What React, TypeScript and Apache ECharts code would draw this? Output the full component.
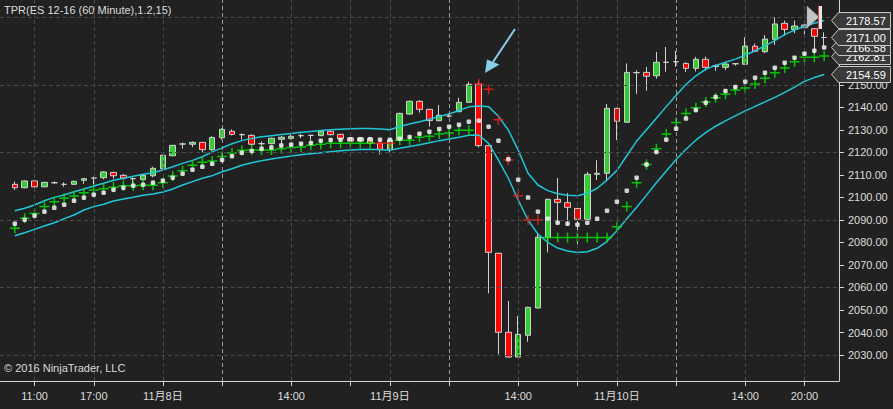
import { useEffect, useRef } from "react";
import * as echarts from "echarts";

const opens = [2105.8, 2104.3, 2107.3, 2104.7, 2106.5, 2105.8, 2105.8, 2107.6, 2108.6, 2108.75, 2111.1, 2109.8, 2108.3, 2107.85, 2109.6, 2112.7, 2118.5, 2123.7, 2123.6, 2124.45, 2121.2, 2126.5, 2129.35, 2127.85, 2127.55, 2123.85, 2123.85, 2125.8, 2126.2, 2127.4, 2127.55, 2127.4, 2129.35, 2128.0, 2126.4, 2125.0, 2126.25, 2124.0, 2121.35, 2125.5, 2137.0, 2142.65, 2139.1, 2134.05, 2136.1, 2138.05, 2142.2, 2150.2, 2123.0, 2075.2, 2040.1, 2029.1, 2038.75, 2050.9, 2082.3, 2099.15, 2097.65, 2095.1, 2090.3, 2110.25, 2110.7, 2139.55, 2133.35, 2155.4, 2155.5, 2154.0, 2160.0, 2160.25, 2159.5, 2157.3, 2161.3, 2158.1, 2157.75, 2159.35, 2159.1, 2167.1, 2164.7, 2170.2, 2177.3, 2174.6, 2176.55, 2174.9, 2171.0];
const closes = [2104.3, 2107.3, 2104.7, 2106.7, 2106.5, 2105.8, 2107.15, 2108.3, 2108.6, 2111.3, 2109.6, 2108.6, 2108.3, 2109.8, 2112.9, 2118.7, 2123.1, 2123.7, 2124.45, 2121.2, 2126.6, 2130.2, 2128.0, 2127.85, 2123.6, 2123.85, 2126.25, 2126.7, 2127.1, 2127.4, 2127.55, 2129.35, 2127.85, 2126.05, 2125.05, 2126.4, 2124.0, 2121.35, 2125.5, 2137.3, 2142.7, 2139.1, 2134.1, 2136.45, 2136.1, 2142.2, 2150.2, 2123.0, 2075.6, 2040.1, 2029.1, 2039.2, 2051.2, 2082.3, 2099.15, 2097.8, 2095.6, 2090.3, 2110.25, 2110.7, 2139.55, 2133.8, 2155.5, 2155.4, 2153.8, 2160.0, 2160.0, 2160.25, 2157.3, 2161.3, 2157.75, 2158.4, 2159.2, 2159.35, 2167.2, 2164.9, 2170.3, 2177.0, 2174.6, 2176.1, 2175.35, 2171.5, 2171.0];
const lows = [2103.3, 2104.0, 2104.5, 2104.5, 2106.0, 2104.7, 2105.6, 2106.0, 2105.8, 2108.0, 2108.3, 2107.8, 2105.95, 2107.6, 2108.9, 2112.5, 2118.3, 2121.6, 2122.3, 2120.0, 2120.6, 2125.7, 2127.5, 2125.6, 2123.0, 2121.8, 2123.6, 2123.4, 2125.7, 2126.3, 2125.4, 2127.2, 2127.5, 2125.8, 2124.8, 2124.7, 2123.8, 2119.1, 2120.0, 2125.3, 2136.8, 2137.6, 2131.4, 2133.8, 2135.5, 2137.8, 2142.0, 2122.2, 2057.4, 2030.3, 2029.0, 2029.0, 2035.9, 2050.7, 2075.6, 2088.5, 2087.4, 2078.1, 2090.1, 2107.7, 2107.7, 2125.5, 2133.1, 2146.05, 2147.4, 2152.7, 2155.8, 2158.0, 2155.7, 2155.9, 2156.4, 2156.2, 2156.5, 2158.5, 2158.9, 2164.5, 2164.0, 2167.7, 2171.7, 2172.9, 2172.1, 2164.0, 2167.35];
const highs = [2107.0, 2107.6, 2107.5, 2106.9, 2107.1, 2106.7, 2107.4, 2108.5, 2109.2, 2111.7, 2111.4, 2110.4, 2108.9, 2110.0, 2113.6, 2118.9, 2123.3, 2124.4, 2124.8, 2124.6, 2127.2, 2130.7, 2130.2, 2128.4, 2128.0, 2124.9, 2126.5, 2127.2, 2127.9, 2128.3, 2127.7, 2129.8, 2129.6, 2128.2, 2126.6, 2126.6, 2126.5, 2124.2, 2125.7, 2137.6, 2142.9, 2143.2, 2139.3, 2141.0, 2137.3, 2144.3, 2151.2, 2151.8, 2123.3, 2075.4, 2054.0, 2047.3, 2051.4, 2084.0, 2099.4, 2108.6, 2101.9, 2095.3, 2111.3, 2116.5, 2141.5, 2139.8, 2159.5, 2156.4, 2157.9, 2164.6, 2166.8, 2165.0, 2160.0, 2162.4, 2162.5, 2159.0, 2160.0, 2159.6, 2171.1, 2168.3, 2172.1, 2179.95, 2178.5, 2178.5, 2176.9, 2175.2, 2173.3];

const midDots = [2088.3, 2090.1, 2091.9, 2093.65, 2095.4, 2096.75, 2098.5, 2099.85, 2101.2, 2102.1, 2103.4, 2104.3, 2105.2, 2105.6, 2106.5, 2107.4, 2108.75, 2110.5, 2112.3, 2113.6, 2114.9, 2116.65, 2118.3, 2119.8, 2120.65, 2121.55, 2122.1, 2123.0, 2123.4, 2123.85, 2124.2, 2125.2, 2125.5, 2125.6, 2125.8, 2125.8, 2125.8, 2125.6, 2125.6, 2126.05, 2126.8, 2128.3, 2129.2, 2130.35, 2131.4, 2132.3, 2133.6, 2134.05, 2131.4, 2125.2, 2116.9, 2107.85, 2099.9, 2093.65, 2090.55, 2088.75, 2088.3, 2087.9, 2088.75, 2090.5, 2094.1, 2098.1, 2103.0, 2108.75, 2114.6, 2120.2, 2125.6, 2130.5, 2135.0, 2138.8, 2142.05, 2144.6, 2147.2, 2149.0, 2151.4, 2153.15, 2155.4, 2157.6, 2159.8, 2162.05, 2163.8, 2165.15, 2166.58];
const stopValues = [2086.3, 2090.7, 2092.9, 2095.9, 2098.1, 2099.6, 2100.6, 2102.1, 2103.3, 2103.85, 2104.5, 2105.2, 2105.2, 2105.4, 2105.4, 2106.5, 2109.5, 2111.85, 2114.25, 2115.6, 2116.2, 2118.2, 2119.7, 2120.8, 2121.05, 2121.05, 2121.05, 2121.55, 2122.1, 2122.4, 2123.1, 2123.55, 2124.0, 2124.0, 2124.0, 2124.0, 2124.0, 2124.0, 2124.0, 2125.35, 2125.35, 2126.7, 2127.1, 2128.15, 2128.6, 2129.8, 2129.8, 2150.35, 2148.0, 2134.5, 2116.6, 2100.7, 2089.95, 2089.95, 2082.2, 2082.2, 2082.2, 2082.2, 2082.2, 2082.2, 2082.2, 2087.0, 2095.9, 2106.5, 2114.6, 2121.6, 2128.15, 2133.3, 2137.3, 2139.8, 2142.35, 2144.3, 2145.8, 2147.7, 2148.6, 2150.35, 2152.9, 2155.4, 2157.45, 2160.25, 2162.2, 2162.2, 2162.81];
// "G" = long stop (green), "R" = short stop (red)
const stopSides = "GGGGGGGGGGGGGGGGGGGGGGGGGGGGGGGGGGGGGRRGGGGGGGGRRRRRRRGGGGGGGGGGGGGGGGGGGGGGGGGGGGG".split("");
const upperBand = [2094.1, 2095.15, 2096.6, 2098.5, 2100.0, 2101.05, 2102.5, 2103.7, 2105.05, 2106.25, 2107.6, 2108.5, 2109.35, 2110.25, 2110.95, 2112.15, 2113.6, 2115.1, 2116.45, 2118.05, 2120.2, 2122.0, 2123.8, 2125.2, 2126.2, 2126.9, 2127.4, 2127.9, 2128.4, 2128.9, 2129.3, 2129.7, 2130.0, 2130.3, 2130.5, 2130.6, 2130.6, 2130.4, 2130.0, 2131.5, 2132.6, 2133.6, 2134.7, 2135.9, 2137.0, 2138.6, 2140.2, 2140.6, 2140.3, 2136.0, 2129.9, 2121.0, 2110.7, 2105.5, 2103.0, 2101.6, 2100.9, 2100.75, 2101.8, 2104.05, 2107.7, 2112.0, 2118.5, 2125.0, 2130.0, 2135.1, 2140.3, 2145.4, 2150.1, 2154.0, 2156.9, 2158.6, 2160.0, 2161.4, 2163.1, 2165.1, 2167.3, 2169.6, 2172.3, 2174.3, 2176.0, 2177.3, 2178.57];
const lowerBand = [2082.95, 2084.3, 2085.8, 2087.3, 2088.75, 2090.55, 2092.2, 2094.4, 2095.9, 2096.95, 2098.4, 2099.3, 2100.05, 2100.95, 2101.5, 2102.4, 2103.7, 2105.5, 2107.0, 2108.5, 2109.65, 2111.4, 2112.75, 2114.3, 2115.4, 2116.3, 2117.0, 2117.7, 2118.4, 2118.9, 2119.4, 2119.85, 2120.3, 2120.7, 2121.05, 2121.3, 2121.35, 2121.2, 2120.9, 2121.8, 2122.6, 2123.4, 2124.3, 2125.2, 2125.9, 2126.7, 2127.55, 2127.7, 2124.0, 2116.5, 2108.5, 2098.85, 2089.95, 2083.7, 2080.0, 2077.5, 2076.2, 2075.5, 2075.9, 2077.4, 2080.5, 2085.2, 2090.5, 2095.6, 2101.0, 2106.5, 2111.7, 2116.8, 2121.4, 2125.4, 2128.8, 2131.6, 2134.0, 2136.2, 2138.4, 2140.4, 2142.4, 2144.4, 2146.6, 2149.0, 2151.5, 2153.2, 2154.59];

const tickBars = [2, 8, 15, 21, 28, 34, 38, 44, 51, 57, 61, 67, 74, 80];
const tickLabels = ["11:00", "17:00", "11月8日", "", "14:00", "", "11月9日", "", "14:00", "", "11月10日", "", "14:00", "20:00"];
const sessionBars = [21, 44, 67];
const priceTicks = [2030, 2040, 2050, 2060, 2070, 2080, 2090, 2100, 2110, 2120, 2130, 2140, 2150, 2160, 2170, 2180];
const priceLabels = [2030, 2040, 2050, 2060, 2070, 2080, 2090, 2100, 2110, 2120, 2130, 2140, 2150];
const gridPrices = [2030, 2060, 2090, 2120, 2150, 2180];
const titleText = "TPR(ES 12-16 (60 Minute),1.2,15)";
const copyrightText = "© 2016 NinjaTrader, LLC";

const FONT = '"Liberation Sans", Arial, "Noto Sans CJK SC", sans-serif';
const PLUS = "path://M8.5,0h3v8.5h8.5v3h-8.5v8.5h-3v-8.5h-8.5v-3h8.5z";

export default function App() {
  const ref = useRef<HTMLDivElement>(null);
  useEffect(() => {
    const el = ref.current!;
    const chart = echarts.init(el, null, { renderer: "svg" });
    const n = opens.length;
    const cats: string[] = [];
    for (let k = -1; k <= n; k++) cats.push(String(k));
    const empty = ["-", "-", "-", "-"];
    const candles = [empty, ...opens.map((o, i) => [o, closes[i], lows[i], highs[i]]), empty];
    const pad = (a: number[]) => ["-", ...a, "-"];
    const tickSet = new Set(tickBars.map((b) => b + 1));
    const labelMap: Record<number, string> = {};
    tickBars.forEach((b, j) => { if (tickLabels[j]) labelMap[b + 1] = tickLabels[j]; });
    const greenStops: any[] = [];
    const redStops: any[] = [];
    stopValues.forEach((v, i) => (stopSides[i] === "R" ? redStops : greenStops).push([i + 1, v]));
    const dots = midDots.map((v, i) => [i + 1, v]);

    const gridLineData: any[] = [
      ...gridPrices.map((p) => ({ yAxis: p, lineStyle: { color: "#4a4a4a", type: [4, 3], width: 1 } })),
      ...tickBars.map((b) => ({
        xAxis: b + 1,
        lineStyle: { color: sessionBars.includes(b) ? "#9a9a9a" : "#4a4a4a", type: [4, 3], width: 1 },
      })),
    ];

    chart.setOption({
      animation: false,
      backgroundColor: "#212121",
      grid: { left: -4.22, right: 54.02, top: 0, bottom: 28 },
      xAxis: {
        type: "category",
        data: cats,
        boundaryGap: true,
        axisLine: { show: true, lineStyle: { color: "#d4d4d4", width: 1 } },
        axisTick: {
          show: true,
          alignWithLabel: true,
          length: 5,
          interval: (idx: number) => tickSet.has(idx),
          lineStyle: { color: "#d4d4d4" },
        },
        axisLabel: {
          show: true,
          interval: (idx: number) => labelMap[idx] !== undefined,
          formatter: (_v: string, idx: number) => labelMap[idx] || "",
          color: "#dcdcdc",
          fontSize: 11,
          fontFamily: FONT,
          margin: 9,
        },
        splitLine: { show: false },
      },
      yAxis: {
        type: "value",
        position: "right",
        min: 2018.47,
        max: 2187.65,
        axisLine: { show: true, lineStyle: { color: "#d4d4d4", width: 1 } },
        axisTick: { show: true, length: 5, customValues: priceTicks, lineStyle: { color: "#d4d4d4" } },
        axisLabel: {
          show: true,
          customValues: priceLabels,
          formatter: (v: number) => v.toFixed(2),
          color: "#dcdcdc",
          fontSize: 11,
          fontFamily: FONT,
          margin: 9,
        },
        splitLine: { show: false },
      },
      series: [
        {
          type: "line",
          data: pad(lowerBand).map(() => "-"),
          silent: true,
          z: 1,
          markLine: {
            silent: true,
            symbol: ["none", "none"],
            label: { show: false },
            animation: false,
            data: gridLineData,
          },
        },
        {
          type: "candlestick",
          data: candles,
          barWidth: 6,
          z: 2,
          itemStyle: {
            color: "#33cc33",
            color0: "#ff0000",
            borderColor: "#d0d0d0",
            borderColor0: "#d0d0d0",
            borderColorDoji: "#d0d0d0",
            borderWidth: 1,
          },
        },
        {
          type: "line",
          data: pad(upperBand),
          showSymbol: false,
          z: 3,
          lineStyle: { color: "#1ec8d8", width: 1.5 },
        },
        {
          type: "line",
          data: pad(lowerBand),
          showSymbol: false,
          z: 3,
          lineStyle: { color: "#1ec8d8", width: 1.5 },
        },
        {
          type: "scatter",
          data: greenStops,
          symbol: PLUS,
          symbolSize: 10,
          z: 4,
          itemStyle: { color: "#00ee00" },
        },
        {
          type: "scatter",
          data: redStops,
          symbol: PLUS,
          symbolSize: 10,
          z: 4,
          itemStyle: { color: "#ff1a1a" },
        },
        {
          type: "scatter",
          data: dots,
          symbol: "roundRect",
          symbolSize: 4.5,
          z: 5,
          itemStyle: { color: "#ffffff" },
        },
      ],
    });

    const yPix = (v: number) => chart.convertToPixel({ yAxisIndex: 0 }, v) as number;
    const last = (a: number[]) => a[a.length - 1];
    const tagVals = [last(lowerBand), last(stopValues), last(midDots), last(closes), last(upperBand)];
    const tagEls: any[] = [];
    tagVals.forEach((v, j) => {
      const c = Math.round(yPix(v)) + 0.5;
      tagEls.push({
        type: "polygon",
        z: 100 + j * 2,
        shape: { points: [[831.5, c], [838.5, c - 8], [890.5, c - 8], [890.5, c + 8], [838.5, c + 8]] },
        style: { fill: "#3a3a3a", stroke: "#c8c8c8", lineWidth: 1 },
      });
      tagEls.push({
        type: "text",
        z: 101 + j * 2,
        x: 846,
        y: c,
        style: { text: v.toFixed(2), fill: "#ffffff", font: `11px ${FONT}`, textVerticalAlign: "middle", verticalAlign: "middle" },
      });
    });

    chart.setOption({
      graphic: [
        {
          type: "text",
          z: 100,
          x: 4,
          y: 10,
          style: { text: titleText, fill: "#dcdcdc", font: `11px ${FONT}`, textVerticalAlign: "middle", verticalAlign: "middle" },
        },
        {
          type: "text",
          z: 100,
          x: 4,
          y: 368,
          style: { text: copyrightText, fill: "#dcdcdc", font: `11px ${FONT}`, textVerticalAlign: "middle", verticalAlign: "middle" },
        },
        {
          type: "line",
          z: 100,
          shape: { x1: 515, y1: 29, x2: 493, y2: 62 },
          style: { stroke: "#88cfeb", lineWidth: 2 },
        },
        {
          type: "polygon",
          z: 100,
          shape: { points: [[485, 73], [487, 59.5], [499.5, 64.5]] },
          style: { fill: "#88cfeb" },
        },
        {
          type: "polygon",
          z: 100,
          shape: { points: [[807, 6], [819, 17], [807, 28]] },
          style: { fill: "#c4c4c4", stroke: "#9a9a9a", lineWidth: 0.5 },
        },
        { type: "rect", z: 100, shape: { x: 819, y: 6, width: 3, height: 23 }, style: { fill: "#e6e6e6" } },
        { type: "rect", z: 100, shape: { x: 818, y: 6, width: 1, height: 23 }, style: { fill: "#e04040" } },
        ...tagEls,
      ],
    });

    return () => chart.dispose();
  }, []);
  return <div ref={ref} style={{ position: "fixed", left: 0, top: 0, width: 893, height: 409, background: "#212121" }} />;
}
